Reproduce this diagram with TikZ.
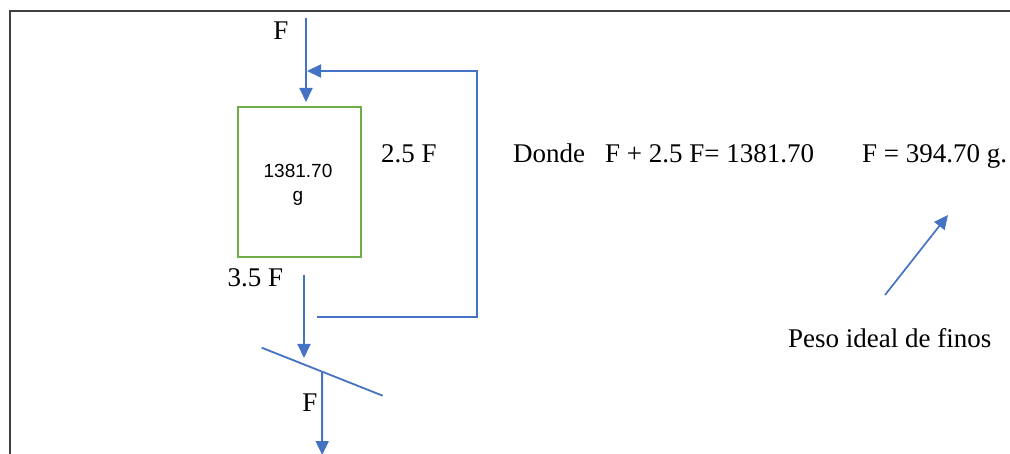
\documentclass[tikz,border=0pt]{standalone}
\usepackage{fontspec}
\setmainfont{Liberation Serif}
\newfontfamily\boxfont{Liberation Sans}
\usetikzlibrary{arrows.meta,calc}
\definecolor{flowblue}{HTML}{4472C4}
\definecolor{boxgreen}{HTML}{70AD47}
\definecolor{framegray}{HTML}{404040}
\begin{document}
\begin{tikzpicture}[x=1pt,y=-1pt,
  flow/.style={draw=flowblue, line width=2pt, -{Triangle[length=14pt,width=13pt]}},
  plainline/.style={draw=flowblue, line width=1.8pt},
  lbl/.style={font=\fontsize{27}{30}\selectfont, inner sep=0pt, anchor=base},
  lblw/.style={lbl, anchor=base west},
  tank/.style={draw=boxgreen, line width=2pt, minimum width=123pt, minimum height=150pt, inner sep=0pt},
  tanktext/.style={align=center, inner sep=0pt, font=\boxfont\fontsize{19}{24}\selectfont}]
\useasboundingbox (0,0) rectangle (1010,454);
\clip (0,0) rectangle (1010,454);
% frame
\coordinate (fa) at (1030,11);
\coordinate (fb) at (10,11);
\coordinate (fc) at (10,480);
\draw[framegray, line width=2.2pt] (fa) -- (fb) -- (fc);
% tank
\node[tank] (box) at (299,182) {};
\node[tanktext] (boxtxt) at (298,185) {1381.70\\g};
% labels
\node[lbl] (ftop) at (281,40) {F};
\node[lbl] (recy) at (409,163) {2.5 F};
\node[lbl] (out) at (255.5,287) {3.5 F};
\node[lbl] (fbot) at (310,411) {F};
\node[lblw] (eq) at (513,163) {Donde\hspace{20pt}F + 2.5 F= 1381.70};
\node[lblw] (res) at (862,163) {F = 394.70 g.};
\node[lblw] (note) at (788,348) {Peso ideal de finos};
% feed arrow
\coordinate (in) at (306,18);
\coordinate (intip) at (306,102);
\draw[flow] (in) -- (intip);
% recycle
\coordinate (fbs) at (317,317);
\coordinate (fbt) at (307,71);
\draw[flow] (fbs) -- ++(160,0) |- (fbt);
% outflow to screen
\coordinate (o1) at (304,275);
\coordinate (o2) at (304,358);
\draw[flow] (o1) -- (o2);
% screen
\coordinate (s1) at (261.7,347.7);
\coordinate (s2) at (382.7,395.7);
\draw[plainline] (s1) -- (s2);
\coordinate (sx) at ($(s1)!0.5!(s2)$);
\coordinate (sb) at (322.2,455);
\draw[flow] (sx) -- (sb);
% pointer arrow
\coordinate (d1) at (885,295);
\coordinate (d2) at (948,215);
\draw[flow, line width=1.7pt] (d1) -- (d2);
\end{tikzpicture}
\end{document}
